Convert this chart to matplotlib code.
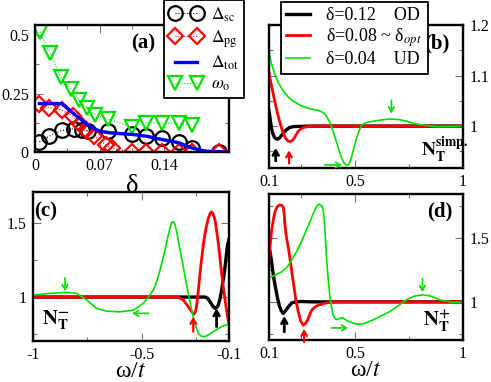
import matplotlib
matplotlib.use('Agg')
import matplotlib.pyplot as plt
from matplotlib.ticker import MultipleLocator, FixedLocator, FuncFormatter

plt.rcParams['font.family'] = ['Liberation Serif', 'STIXGeneral', 'DejaVu Serif']
plt.rcParams['mathtext.fontset'] = 'stix'

# ---------------- panel (a) data ----------------
delta_sc_x = [0.0047, 0.0154, 0.0287, 0.042, 0.051, 0.0574, 0.079, 0.105, 0.120, 0.138, 0.156, 0.170, 0.199]
delta_sc_y = [0.043, 0.068, 0.092, 0.099, 0.096, 0.089, 0.089, 0.075, 0.068, 0.058, 0.043, 0.017, 0.0]
delta_pg_x = [0.0047, 0.0154, 0.0287, 0.0406, 0.0485, 0.055, 0.064, 0.077, 0.083, 0.105, 0.120, 0.138, 0.156, 0.170, 0.199]
delta_pg_y = [0.205, 0.19, 0.18, 0.155, 0.12, 0.095, 0.068, 0.03, 0.015, 0.0, 0.0, 0.0, 0.0, 0.0, 0.0]
delta_tot_x = [0.0047, 0.0287, 0.045, 0.059, 0.07, 0.081, 0.105, 0.120, 0.138, 0.156, 0.170, 0.185, 0.21]
delta_tot_y = [0.207, 0.207, 0.154, 0.11, 0.089, 0.082, 0.075, 0.068, 0.053, 0.039, 0.017, 0.003, 0.0]
omega_x = [0.0054, 0.016, 0.028, 0.039, 0.048, 0.056, 0.065, 0.079, 0.105, 0.120, 0.138, 0.156, 0.170]
omega_y = [0.514, 0.424, 0.32, 0.269, 0.222, 0.19, 0.16, 0.14, 0.107, 0.125, 0.125, 0.122, 0.114]

# ---------------- panel (b): N_T simp. ----------------
b_od_x = [0.10, 0.106, 0.112, 0.118, 0.125, 0.132, 0.14, 0.15, 0.159, 0.17, 0.182, 0.195, 0.213, 0.3, 1.0]
b_od_y = [1.031, 1.012, 0.995, 0.985, 0.978, 0.975, 0.974, 0.977, 0.982, 0.988, 0.993, 0.997, 0.999, 1.0, 1.0]
b_opt_x = [0.10, 0.11, 0.12, 0.13, 0.14, 0.15, 0.159, 0.168, 0.177, 0.187, 0.197, 0.207, 0.217, 0.226, 0.236, 0.25, 0.267, 0.3, 1.0]
b_opt_y = [1.106, 1.083, 1.063, 1.043, 1.024, 1.008, 0.995, 0.984, 0.976, 0.971, 0.969, 0.971, 0.976, 0.983, 0.99, 0.995, 0.998, 1.0, 1.0]
b_ud_x = [0.10, 0.11, 0.12, 0.13, 0.143, 0.158, 0.174, 0.195, 0.22, 0.25, 0.282, 0.305, 0.328, 0.345, 0.359, 0.37, 0.382, 0.394, 0.406, 0.418,
          0.429, 0.44, 0.45, 0.46, 0.47, 0.478, 0.486, 0.496, 0.506, 0.517, 0.529, 0.545, 0.565, 0.583, 0.62, 0.66, 0.7, 0.737, 0.775, 0.814,
          0.85, 0.89, 0.95, 1.0]
b_ud_y = [1.148, 1.125, 1.112, 1.099, 1.086, 1.075, 1.065, 1.055, 1.047, 1.04, 1.035, 1.033, 1.031, 1.028, 1.024, 1.017, 1.008, 0.994, 0.978, 0.962,
          0.946, 0.934, 0.926, 0.922, 0.924, 0.932, 0.943, 0.96, 0.975, 0.99, 1.001, 1.006, 1.008, 1.0095, 1.012, 1.014, 1.013, 1.0098, 1.005, 1.002,
          1.0, 0.9987, 0.999, 1.0]

# ---------------- panel (c): N_T^- ----------------
c_od_x = [-1.0, -0.3, -0.21, -0.197, -0.187, -0.175, -0.164, -0.155, -0.149, -0.141, -0.134, -0.126, -0.118, -0.108, -0.1]
c_od_y = [1.0, 1.0, 1.0, 0.99, 0.968, 0.94, 0.923, 0.932, 0.946, 0.99, 1.047, 1.12, 1.205, 1.34, 1.39]
c_opt_x = [-1.0, -0.4, -0.333, -0.31, -0.287, -0.271, -0.261, -0.254, -0.248, -0.241, -0.233, -0.224, -0.215, -0.205, -0.195, -0.187,
           -0.18, -0.172, -0.164, -0.157, -0.149, -0.141, -0.134, -0.126, -0.118, -0.11, -0.1]
c_opt_y = [1.0, 1.0, 1.0, 0.98, 0.935, 0.9, 0.885, 0.9, 0.946, 1.04, 1.16, 1.28, 1.385, 1.47, 1.532, 1.565, 1.576, 1.56, 1.52, 1.45,
           1.363, 1.26, 1.16, 1.065, 0.98, 0.9, 0.815]
c_ud_x = [-1.0, -0.92, -0.845, -0.8, -0.753, -0.708, -0.662, -0.6, -0.539, -0.494, -0.465, -0.448, -0.437, -0.425, -0.41, -0.394, -0.38,
          -0.37, -0.363, -0.356, -0.348, -0.34, -0.325, -0.31, -0.298, -0.287, -0.275, -0.264, -0.252, -0.241, -0.23, -0.218, -0.205,
          -0.19, -0.172, -0.152, -0.134, -0.1]
c_ud_y = [1.013, 1.025, 1.032, 1.025, 0.98, 0.923, 0.905, 0.9, 0.912, 0.957, 1.01, 1.047, 1.085, 1.137, 1.22, 1.318, 1.41,
          1.47, 1.505, 1.509, 1.49, 1.44, 1.32, 1.205, 1.11, 1.025, 0.94, 0.867, 0.8, 0.755, 0.738, 0.732, 0.736,
          0.748, 0.766, 0.785, 0.8, 0.818]

# ---------------- panel (d): N_T^+ ----------------
d_od_x = [0.10, 0.106, 0.113, 0.12, 0.128, 0.135, 0.14, 0.148, 0.157, 0.166, 0.174, 0.182, 0.193, 0.205, 0.225, 0.244, 0.3, 1.0]
d_od_y = [1.43, 1.38, 1.3, 1.208, 1.13, 1.07, 1.026, 0.97, 0.93, 0.909, 0.925, 0.943, 0.968, 0.992, 1.0, 1.003, 1.0, 1.0]
d_opt_x = [0.10, 0.106, 0.112, 0.12, 0.128, 0.136, 0.144, 0.151, 0.159, 0.166, 0.17, 0.174, 0.178, 0.182, 0.19, 0.197, 0.207, 0.217,
           0.226, 0.236, 0.247, 0.259, 0.269, 0.279, 0.289, 0.298, 0.313, 0.328, 0.36, 0.4, 1.0]
d_opt_y = [1.32, 1.45, 1.55, 1.64, 1.703, 1.735, 1.75, 1.755, 1.752, 1.74, 1.69, 1.6, 1.54, 1.495, 1.42, 1.34, 1.22, 1.104,
           1.0, 0.922, 0.85, 0.818, 0.832, 0.857, 0.9, 0.935, 0.96, 0.974, 0.99, 1.0, 1.0]
d_ud_x = [0.10, 0.13, 0.159, 0.185, 0.205, 0.228, 0.251, 0.27, 0.29, 0.303, 0.313, 0.322, 0.331, 0.34, 0.347, 0.352, 0.356, 0.361,
          0.367, 0.374, 0.382, 0.39, 0.398, 0.405, 0.413, 0.425, 0.435, 0.444, 0.46, 0.475, 0.49, 0.513, 0.54, 0.583, 0.62, 0.66,
          0.7, 0.737, 0.775, 0.814, 0.85, 0.892, 0.953, 1.0]
d_ud_y = [1.187, 1.21, 1.234, 1.272, 1.326, 1.39, 1.47, 1.545, 1.625, 1.68, 1.716, 1.745, 1.76, 1.755, 1.742, 1.71, 1.65, 1.52,
          1.34, 1.19, 1.052, 0.96, 0.896, 0.872, 0.862, 0.868, 0.876, 0.875, 0.856, 0.844, 0.834, 0.826, 0.83, 0.859, 0.89, 0.924,
          0.97, 1.016, 1.045, 1.055, 1.045, 1.016, 0.997, 1.0]

# arrows: (x_tail, y_tail, x_head, y_head)
b_arrows_od = [(0.131, 0.931, 0.131, 0.957)]
b_arrows_opt = [(0.193, 0.926, 0.193, 0.952)]
b_arrows_ud = [(0.668, 1.051, 0.668, 1.025), (0.359, 0.923, 0.439, 0.923)]
c_arrows_od = [(-0.157, 0.80, -0.157, 0.924)]
c_arrows_opt = [(-0.264, 0.766, -0.264, 0.867)]
c_arrows_ud = [(-0.853, 1.13, -0.853, 1.04), (-0.469, 0.89, -0.545, 0.89)]
d_arrows_od = [(0.171, 0.766, 0.171, 0.89)]
d_arrows_opt = [(0.263, 0.6875, 0.263, 0.79)]
d_arrows_ud = [(0.812, 1.18, 0.812, 1.076), (0.39, 0.797, 0.467, 0.797)]

legend_b_labels = ['δ=0.12    OD', 'δ=0.08 ~ δ$_{opt}$', 'δ=0.04    UD']

BLACK, RED, GREEN, BLUE = 'black', '#ff0000', '#00e000', '#0000ff'
LW = {'od': 2.4, 'opt': 2.0, 'ud': 1.2}

fig = plt.figure(figsize=(4.91, 3.82), dpi=100)
W, H = 491.0, 382.0


def box(l, t, r, b):
    return [l / W, 1 - b / H, (r - l) / W, (b - t) / H]


ax_a = fig.add_axes(box(35, 25, 229, 152))
ax_b = fig.add_axes(box(269, 25, 463, 168))
ax_c = fig.add_axes(box(33, 192, 229, 341))
ax_d = fig.add_axes(box(269, 194, 463, 340))
ax_a.set_zorder(3)

fmt = FuncFormatter(lambda v, p: '%g' % round(v, 4))


def style(ax, right=False):
    for s in ax.spines.values():
        s.set_linewidth(1.7)
    ax.tick_params(which='both', direction='in', top=True, right=True, bottom=True, left=True,
                   labelsize=11.5, color='0.45', width=0.8, pad=4.5)
    ax.tick_params(which='major', length=6)
    ax.tick_params(which='minor', length=3)
    if right:
        ax.tick_params(labelleft=False, labelright=True)
    ax.xaxis.set_major_formatter(fmt)
    ax.yaxis.set_major_formatter(fmt)


# ---- panel (a)
l_sc, = ax_a.plot(delta_sc_x, delta_sc_y, ls=':', lw=0.8, color=BLACK, marker='o', ms=10.5,
                  mfc='none', mec=BLACK, mew=1.6, label=r'$\Delta_{\rm sc}$')
l_pg, = ax_a.plot(delta_pg_x, delta_pg_y, ls=':', lw=0.8, color=RED, marker='D', ms=8,
                  mfc='none', mec=RED, mew=1.6, label=r'$\Delta_{\rm pg}$')
l_om, = ax_a.plot(omega_x, omega_y, ls=':', lw=0.8, color=GREEN, marker='v', ms=10,
                  mfc='none', mec=GREEN, mew=1.6, label=r'$\omega_{\rm o}$')
l_tot, = ax_a.plot(delta_tot_x, delta_tot_y, ls='-', lw=2.4, color=BLUE, label=r'$\Delta_{\rm tot}$')
ax_a.set_xlim(0, 0.21)
ax_a.set_ylim(0, 0.543)
ax_a.xaxis.set_major_locator(FixedLocator([0, 0.07, 0.14, 0.21]))
ax_a.xaxis.set_minor_locator(MultipleLocator(0.035))
ax_a.yaxis.set_major_locator(FixedLocator([0, 0.25, 0.5]))
ax_a.yaxis.set_minor_locator(MultipleLocator(0.125))
style(ax_a)
ax_a.set_xticklabels(['0', '0.07', '0.14', ''])
ax_a.set_xlabel('δ', fontsize=19, labelpad=0.5)
ax_a.text(0.557, 0.858, '(a)', transform=ax_a.transAxes, fontsize=15, fontweight='bold',
          ha='center', va='center')
leg_a = ax_a.legend([l_sc, l_pg, l_tot, l_om], [l_sc.get_label(), l_pg.get_label(), l_tot.get_label(), l_om.get_label()],
                    loc='upper right', bbox_to_anchor=(244 / W, 1.0), bbox_transform=fig.transFigure,
                    numpoints=2, fontsize=12.5, handlelength=1.9, handletextpad=0.5, labelspacing=0.25,
                    borderpad=0.3, borderaxespad=0, fancybox=False, framealpha=1, edgecolor='black')
leg_a.get_frame().set_linewidth(1.3)


def draw_arrows(ax, arrows, color, lw):
    for xt, yt, xh, yh in arrows:
        ax.annotate('', xy=(xh, yh), xytext=(xt, yt), annotation_clip=False,
                    arrowprops=dict(arrowstyle='->,head_length=0.35,head_width=0.2', color=color, lw=lw,
                                    shrinkA=0, shrinkB=0))


# ---- panel (b)
h1, = ax_b.plot(b_od_x, b_od_y, color=BLACK, lw=LW['od'])
h2, = ax_b.plot(b_opt_x, b_opt_y, color=RED, lw=LW['opt'])
h3, = ax_b.plot(b_ud_x, b_ud_y, color=GREEN, lw=LW['ud'])
draw_arrows(ax_b, b_arrows_od, BLACK, 2.0)
draw_arrows(ax_b, b_arrows_opt, RED, 1.6)
draw_arrows(ax_b, b_arrows_ud, GREEN, 1.2)
ax_b.set_xlim(0.1, 1.0)
ax_b.set_ylim(0.917, 1.2)
ax_b.xaxis.set_major_locator(FixedLocator([0.1, 0.5, 1.0]))
ax_b.xaxis.set_minor_locator(FixedLocator([0.25, 0.75]))
ax_b.yaxis.set_major_locator(FixedLocator([1.0, 1.1, 1.2]))
ax_b.yaxis.set_minor_locator(FixedLocator([0.95, 1.05, 1.15]))
style(ax_b, right=True)
ax_b.text(0.866, 0.874, '(b)', transform=ax_b.transAxes, fontsize=15, fontweight='bold',
          ha='center', va='center')
ax_b.text(0.785, 0.077, r'$\mathbf{N}_{\mathbf{T}}^{\mathbf{simp.}}$', transform=ax_b.transAxes,
          fontsize=14, ha='left', va='baseline')
leg_b = ax_b.legend([h1, h2, h3], legend_b_labels, loc='upper left', bbox_to_anchor=(281 / W, 1 - 2 / H),
                    bbox_transform=fig.transFigure, fontsize=13, handlelength=1.3, handletextpad=0.9,
                    labelspacing=0.12, borderpad=0.3, borderaxespad=0, fancybox=False, framealpha=1,
                    edgecolor='black')
leg_b.get_frame().set_linewidth(1.3)

# ---- panel (c)
ax_c.plot(c_od_x, c_od_y, color=BLACK, lw=LW['od'])
ax_c.plot(c_opt_x, c_opt_y, color=RED, lw=LW['opt'])
ax_c.plot(c_ud_x, c_ud_y, color=GREEN, lw=LW['ud'])
draw_arrows(ax_c, c_arrows_od, BLACK, 2.0)
draw_arrows(ax_c, c_arrows_opt, RED, 1.6)
draw_arrows(ax_c, c_arrows_ud, GREEN, 1.2)
ax_c.set_xlim(-1.0, -0.1)
ax_c.set_ylim(0.703, 1.71)
ax_c.xaxis.set_major_locator(FixedLocator([-1.0, -0.5, -0.1]))
ax_c.xaxis.set_minor_locator(FixedLocator([-0.75, -0.25]))
ax_c.yaxis.set_major_locator(FixedLocator([1.0, 1.5]))
ax_c.yaxis.set_minor_locator(FixedLocator([0.75, 1.25]))
style(ax_c)
ax_c.set_xlabel(r'ω/$t$', fontsize=17, labelpad=-1.5)
ax_c.text(0.066, 0.872, '(c)', transform=ax_c.transAxes, fontsize=15, fontweight='bold',
          ha='center', va='center')
ax_c.text(0.044, 0.112, r'$\mathbf{N}_{\mathbf{T}}^{\mathbf{-}}$', transform=ax_c.transAxes,
          fontsize=15, ha='left', va='baseline')

# ---- panel (d)
ax_d.plot(d_od_x, d_od_y, color=BLACK, lw=LW['od'])
ax_d.plot(d_opt_x, d_opt_y, color=RED, lw=LW['opt'])
ax_d.plot(d_ud_x, d_ud_y, color=GREEN, lw=LW['ud'])
draw_arrows(ax_d, d_arrows_od, BLACK, 2.0)
draw_arrows(ax_d, d_arrows_opt, RED, 1.6)
draw_arrows(ax_d, d_arrows_ud, GREEN, 1.2)
ax_d.set_xlim(0.1, 1.0)
ax_d.set_ylim(0.703, 1.84)
ax_d.xaxis.set_major_locator(FixedLocator([0.1, 0.5, 1.0]))
ax_d.xaxis.set_minor_locator(FixedLocator([0.25, 0.75]))
ax_d.yaxis.set_major_locator(FixedLocator([1.0, 1.5]))
ax_d.yaxis.set_minor_locator(FixedLocator([0.75, 1.25, 1.75]))
style(ax_d, right=True)
ax_d.set_xlabel(r'ω/$t$', fontsize=17, labelpad=-1.5)
ax_d.text(0.881, 0.877, '(d)', transform=ax_d.transAxes, fontsize=15, fontweight='bold',
          ha='center', va='center')
ax_d.text(0.792, 0.091, r'$\mathbf{N}_{\mathbf{T}}^{\mathbf{+}}$', transform=ax_d.transAxes,
          fontsize=15, ha='left', va='baseline')

fig.savefig('out.png', dpi=100)
